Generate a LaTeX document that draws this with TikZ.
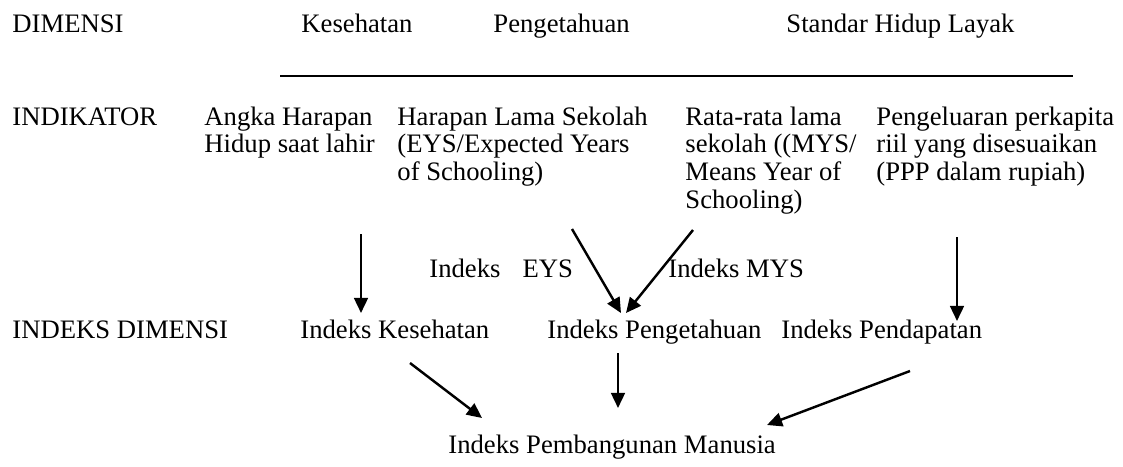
\documentclass[tikz,border=0pt]{standalone}
\usepackage{fontspec}
\setmainfont{Liberation Serif}
\usetikzlibrary{arrows.meta}

\tikzset{
  txt/.style={anchor=base west, inner sep=0pt, align=left, font=\fontsize{12}{12.5}\selectfont},
  arr/.style={-{Triangle[length=6.8pt,width=6.2pt]}, line width=1.1pt},
}

\begin{document}
\begin{tikzpicture}[x=0.45pt, y=-0.45pt]
  \useasboundingbox (0,0) rectangle (1123,466);

  % ===== baris dimensi =====
  \node[txt] (dim) at (12,32) {DIMENSI};
  \node[txt] (kes) at (301,32) {Kesehatan};
  \node[txt] (pen) at (493,32) {Pengetahuan};
  \node[txt] (shl) at (786,32) {Standar Hidup Layak};

  % garis pemisah
  \coordinate (gl) at (280,76);
  \coordinate (gr) at (1073,76);
  \draw[line width=1.1pt] (gl) -- (gr);

  % ===== baris indikator (base = baris terakhir) =====
  \node[txt] (ind) at (12,125) {INDIKATOR};
  \node[txt] (ahh) at (204,152.8) {Angka Harapan\\Hidup saat lahir};
  \node[txt] (hls) at (397,180.6) {Harapan Lama Sekolah\\(EYS/Expected Years\\of Schooling)};
  \node[txt] (rls) at (685,208.4) {Rata-rata lama\\sekolah ((MYS/\\Means Year of\\Schooling)};
  \node[txt] (ppp) at (876,180.6) {Pengeluaran perkapita\\riil yang disesuaikan\\(PPP dalam rupiah)};

  % label indeks antara
  \node[txt] (ieys) at (429,277) {Indeks\hspace{9.9pt}EYS};
  \node[txt] (imys) at (668,277) {Indeks MYS};

  % ===== baris indeks dimensi =====
  \node[txt] (idim) at (12,338) {INDEKS DIMENSI};
  \node[txt] (ikes) at (300,338) {Indeks Kesehatan};
  \node[txt] (ipen) at (547,338) {Indeks Pengetahuan};
  \node[txt] (ipdp) at (781,338) {Indeks Pendapatan};

  % ===== IPM =====
  \node[txt] (ipm) at (448,453) {Indeks Pembangunan Manusia};

  % titik ujung panah
  \coordinate (a1s) at (361,234);  \coordinate (a1e) at (361,313);
  \coordinate (a2s) at (572,229);  \coordinate (a2e) at (621,313);
  \coordinate (a3s) at (693,230);  \coordinate (a3e) at (626,313);
  \coordinate (a4s) at (957,237);  \coordinate (a4e) at (957,321);
  \coordinate (b1s) at (410,363);  \coordinate (b1e) at (482,418);
  \coordinate (b2s) at (618,353);  \coordinate (b2e) at (618,408);
  \coordinate (b3s) at (910,371);  \coordinate (b3e) at (767,425);

  % panah indikator -> indeks
  \draw[arr] (a1s) -- (a1e);
  \draw[arr] (a2s) -- (a2e);
  \draw[arr] (a3s) -- (a3e);
  \draw[arr] (a4s) -- (a4e);

  % panah indeks -> IPM
  \draw[arr] (b1s) -- (b1e);
  \draw[arr] (b2s) -- (b2e);
  \draw[arr] (b3s) -- (b3e);
\end{tikzpicture}
\end{document}
